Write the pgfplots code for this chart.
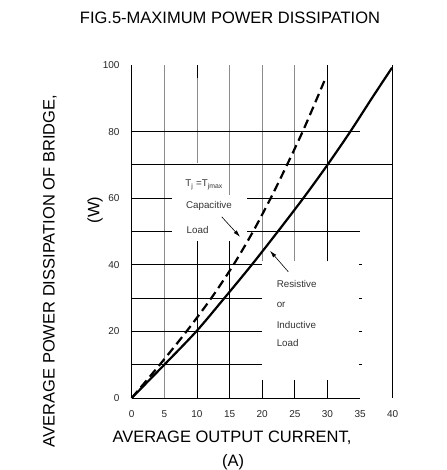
\documentclass[border=0pt]{standalone}
\usepackage{pgfplots}
\pgfplotsset{compat=1.18}
\usepackage{fontspec}
\setmainfont{Liberation Sans}
\usetikzlibrary{arrows.meta}
\begin{document}
\begin{tikzpicture}[x=1pt,y=1pt]
\useasboundingbox (0,0) rectangle (446,470);
\begin{axis}[at={(131.7pt,72pt)}, anchor=south west, scale only axis,
  width=261pt, height=333pt, xmin=0, xmax=40, ymin=0, ymax=100,
  axis x line=bottom, axis y line=left, axis line style={draw=none},
  tick style={draw=none}, xtick={0,5,...,40}, ytick={0,20,...,100},
  tick label style={font=\fontsize{10}{12}\selectfont, text=black!85},
  xticklabel style={yshift=-7pt}, yticklabel style={xshift=-6.5pt},
  /pgf/number format/assume math mode=true, clip=false, unbounded coords=jump]
% gray grid segments
\addplot[black!45, line width=0.8pt, forget plot] coordinates {
 (5,0) (5,100) (nan,nan)
 (10,70.5) (10,100) (nan,nan)
 (15,61) (15,100) (nan,nan)
 (20,41) (20,100) (nan,nan)
 (25,41) (25,100)};
% black grid segments
\addplot[black, line width=0.8pt, forget plot] coordinates {
 (0,0) (0,100) (nan,nan)
 (0,0) (35,0) (nan,nan)
 (40,0) (40,100) (nan,nan)
 (30,41) (30,100) (nan,nan)
 (10,0) (10,47) (nan,nan)
 (15,0) (15,47) (nan,nan)
 (20,0) (20,5.3) (nan,nan)
 (25,0) (25,5.3) (nan,nan)
 (30,0) (30,5.3) (nan,nan)
 (10,96) (10,100) (nan,nan)
 (0,10) (20,10) (nan,nan)
 (0,20) (20,20) (nan,nan)
 (0,30) (20,30) (nan,nan)
 (0,40) (20,40) (nan,nan)
 (0,50) (6.1,50) (nan,nan)
 (17.7,50) (35,50) (nan,nan)
 (0,60) (6.1,60) (nan,nan)
 (17.7,60) (40,60) (nan,nan)
 (0,70) (40,70) (nan,nan)
 (0,80) (35,80) (nan,nan)
 (34.8,10) (35.3,10) (nan,nan)
 (34.8,20) (35.3,20) (nan,nan)
 (34.8,30) (35.3,30) (nan,nan)
 (34.8,40) (35.3,40)};
% Resistive or inductive load
\addplot[black, line width=2.2pt, smooth] coordinates {
 (0,0) (5,10) (9.9,20) (14.2,30) (18.4,40) (22.4,50) (26.3,60) (30,70) (33.5,80) (36.8,90) (39.9,99.2)};
% Capacitive load
\addplot[black, line width=2.2pt, smooth, dash pattern=on 9pt off 5pt] coordinates {
 (0,0) (4.3,10) (8.4,20) (12.2,30) (15.6,40) (18.6,50) (21.3,60) (23.8,70) (26.2,80) (28.4,90) (29.7,96)};
% annotations
\begin{scope}[every node/.style={font=\fontsize{9.8}{11}\selectfont, text=black!80, anchor=west, inner sep=0pt}]
\node at (axis cs:8.2,64) {T\textsubscript{j} =T\textsubscript{jmax}};
\node at (axis cs:8.3,57.7) {Capacitive};
\node at (axis cs:8.4,50.4) {Load};
\node at (axis cs:22.2,34.2) {Resistive};
\node at (axis cs:22.2,28.1) {or};
\node at (axis cs:22.2,21.9) {Inductive};
\node at (axis cs:22.2,16.6) {Load};
\end{scope}
\draw[black, line width=0.6pt, -{Latex[length=7pt,width=4pt]}] (axis cs:13.8,54.4) -- (axis cs:16.6,48.4);
\draw[black, line width=0.6pt, -{Latex[length=7pt,width=4pt]}] (axis cs:24.0,37.9) -- (axis cs:21.2,44.2);
\end{axis}
\node[font=\fontsize{16.5}{18}\selectfont] at (230,452) {FIG.5-MAXIMUM POWER DISSIPATION};
\node[font=\fontsize{16.5}{18}\selectfont] at (232,32) {AVERAGE OUTPUT CURRENT,};
\node[font=\fontsize{16.5}{18}\selectfont] at (233,8) {(A)};
\node[font=\fontsize{16.5}{18}\selectfont, rotate=90] at (50,199) {AVERAGE POWER DISSIPATION OF BRIDGE,};
\node[font=\fontsize{16.5}{18}\selectfont, rotate=90] at (95,260) {(W)};
\end{tikzpicture}
\end{document}
